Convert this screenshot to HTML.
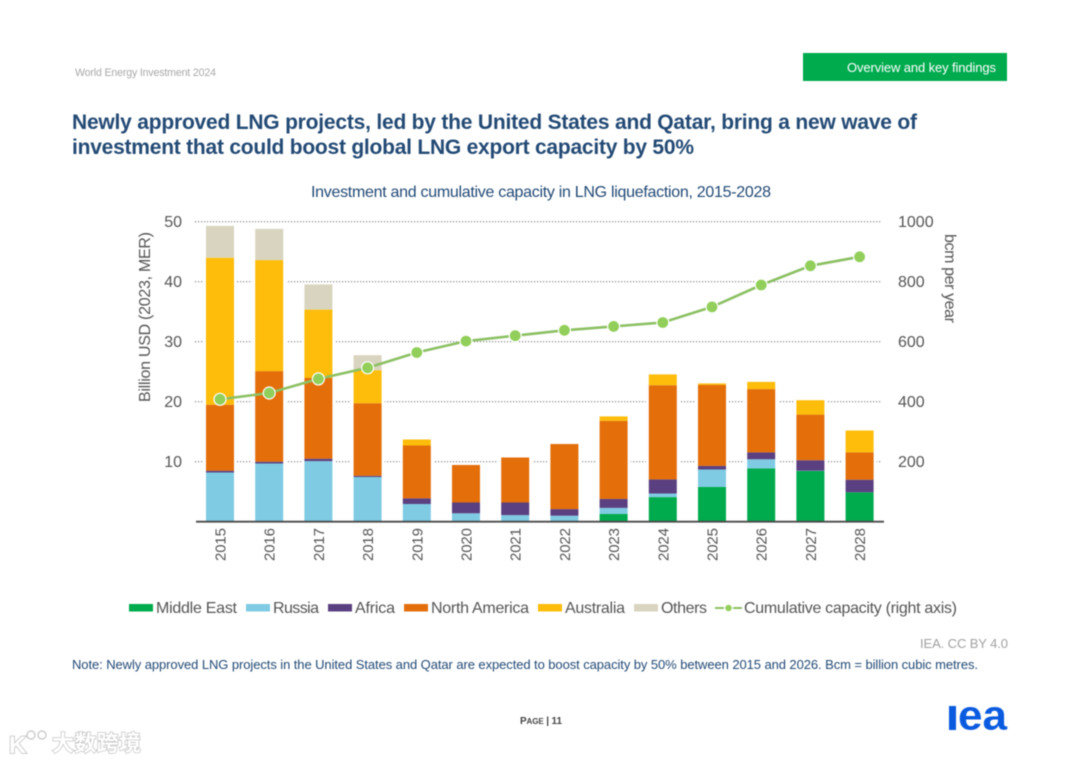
<!DOCTYPE html>
<html lang="en">
<head>
<meta charset="utf-8">
<title>LNG liquefaction investment</title>
<style>
html,body{margin:0;padding:0;background:#fff;width:1080px;height:763px;overflow:hidden}
svg{display:block;filter:blur(0.4px);font-family:"Liberation Sans","Noto Sans CJK SC",sans-serif}
</style>
</head>
<body>
<svg id="page" width="1080" height="763" viewBox="0 0 1080 763" xmlns="http://www.w3.org/2000/svg">
  <text x="75" y="76" font-size="10.6" fill="#a8a8a8" textLength="141" lengthAdjust="spacing">World Energy Investment 2024</text>
  <rect x="803" y="53" width="204" height="28" fill="#00ab4e"/>
  <text x="847" y="72" font-size="13" fill="#fff" textLength="149" lengthAdjust="spacing">Overview and key findings</text>

  <text x="72" y="129" font-size="21" font-weight="700" fill="#234a75" textLength="845" lengthAdjust="spacing">Newly approved LNG projects, led by the United States and Qatar, bring a new wave of</text>
  <text x="72" y="154" font-size="21" font-weight="700" fill="#234a75" textLength="622" lengthAdjust="spacing">investment that could boost global LNG export capacity by 50%</text>

  <text x="311" y="197" font-size="16" fill="#234a75" textLength="460" lengthAdjust="spacing">Investment and cumulative capacity in LNG liquefaction, 2015-2028</text>

  <g id="chart"></g>

  <text transform="translate(150,402) rotate(-90)" font-size="16" fill="#555" textLength="170" lengthAdjust="spacing">Billion USD (2023, MER)</text>
  <text transform="translate(945,234) rotate(90)" font-size="16" fill="#555" textLength="89" lengthAdjust="spacing">bcm per year</text>

  <g font-size="16" fill="#555">
    <rect x="129" y="604" width="24" height="7.5" fill="#00ab4e"/>
    <text x="156" y="613" textLength="81" lengthAdjust="spacing">Middle East</text>
    <rect x="246" y="604" width="24" height="7.5" fill="#7fcbe3"/>
    <text x="273" y="613" textLength="46" lengthAdjust="spacing">Russia</text>
    <rect x="328" y="604" width="24" height="7.5" fill="#5a4080"/>
    <text x="355" y="613" textLength="40" lengthAdjust="spacing">Africa</text>
    <rect x="404" y="604" width="24" height="7.5" fill="#e36e0a"/>
    <text x="431" y="613" textLength="98" lengthAdjust="spacing">North America</text>
    <rect x="538" y="604" width="24" height="7.5" fill="#fdbd0a"/>
    <text x="565" y="613" textLength="60" lengthAdjust="spacing">Australia</text>
    <rect x="634" y="604" width="24" height="7.5" fill="#d9d4bf"/>
    <text x="661" y="613" textLength="46" lengthAdjust="spacing">Others</text>
    <line x1="715" y1="608" x2="742" y2="608" stroke="#8cc063" stroke-width="2"/>
    <circle cx="728.5" cy="608" r="4" fill="#92cf5a" stroke="#fff" stroke-width="1.5"/>
    <text x="744" y="613" textLength="213" lengthAdjust="spacing">Cumulative capacity (right axis)</text>
  </g>

  <text x="920" y="648" font-size="13" fill="#a0a0a0" textLength="88" lengthAdjust="spacing">IEA. CC BY 4.0</text>
  <text x="72" y="669" font-size="13" fill="#234a75" textLength="906" lengthAdjust="spacing">Note: Newly approved LNG projects in the United States and Qatar are expected to boost capacity by 50% between 2015 and 2026. Bcm = billion cubic metres.</text>

  <text x="520" y="724" font-size="10" font-weight="700" fill="#444" textLength="42" lengthAdjust="spacing">P<tspan font-size="8">AGE</tspan> | 11</text>

  <g fill="#0b5be0">
    <rect x="949" y="706" width="7" height="24"/>
    <text transform="translate(958,729.6) scale(1.05,1)" font-size="42" font-weight="700">ea</text>
  </g>

  <g>
    <text x="9" y="753" font-size="24" font-weight="700" fill="#fff" stroke="#cacaca" stroke-width="1.8" paint-order="stroke">K</text>
    <circle cx="31" cy="735" r="4" fill="#fff" stroke="#cccccc" stroke-width="1.4"/>
    <circle cx="42" cy="735" r="4" fill="#fff" stroke="#cccccc" stroke-width="1.4"/>
    <text x="52" y="751" font-size="22" font-weight="700" fill="#fff" stroke="#c6c6c6" stroke-width="1.5" paint-order="stroke" textLength="89" lengthAdjust="spacing" style="font-family:'Noto Sans CJK SC','WenQuanYi Zen Hei',sans-serif">大数跨境</text>
  </g>
</svg>
<script>
const categories = ['2015','2016','2017','2018','2019','2020','2021','2022','2023','2024','2025','2026','2027','2028'];
const middleEast   = [0,0,0,0,0,0,0,0,1.3,4.1,5.8,8.9,8.45,4.9];
const russia       = [8.2,9.7,10.1,7.45,2.95,1.4,1.1,1.0,1.0,0.6,2.9,1.5,0.05,0];
const africa       = [0.3,0.3,0.4,0.2,0.95,1.8,2.1,1.1,1.5,2.35,0.6,1.15,1.75,2.1];
const northAmerica = [11.0,15.1,13.45,12.1,8.8,6.25,7.5,10.85,13.0,15.7,13.5,10.55,7.6,4.55];
const australia    = [24.5,18.5,11.4,5.5,1.0,0,0,0,0.75,1.8,0.25,1.2,2.4,3.65];
const others       = [5.3,5.2,4.2,2.5,0,0,0,0,0,0,0,0,0,0];
const capacity     = [408,429,476,513,564,602,620,638,651,664,716,789,853,883];
const leftTicks  = [10,20,30,40,50];
const rightTicks = [200,400,600,800,1000];

const svgNS = 'http://www.w3.org/2000/svg';
const chart = document.getElementById('chart');
const xPos = i => 220 + 49.2 * i;
const yLeft = v => 521.7 - 6 * v;
const yRight = v => 521.7 - 0.3 * v;
const barWidth = 28;

function make(tag, attrs, parent, text) {
  const el = document.createElementNS(svgNS, tag);
  for (const k in attrs) el.setAttribute(k, attrs[k]);
  if (text !== undefined) el.textContent = text;
  (parent || chart).appendChild(el);
  return el;
}

leftTicks.forEach(t => {
  const grid = make('line', {x1:195, x2:882, y1:yLeft(t), y2:yLeft(t), stroke:'#808080', 'stroke-width':1.2, 'stroke-dasharray':'1.2 1.8'});
  
  
  const label = make('text', {x:182, y:yLeft(t) + 5.5, 'text-anchor':'end', 'font-size':16, fill:'#555'}, chart, String(t));
  
  
});

rightTicks.forEach(t => {
  const label = make('text', {x:898, y:yRight(t) + 5.5, 'font-size':16, fill:'#555'}, chart, String(t));
  
  
});

const stackSeries = [
  {name:'middle-east', values:middleEast, color:'#00ab4e'},
  {name:'russia', values:russia, color:'#7fcbe3'},
  {name:'africa', values:africa, color:'#5a4080'},
  {name:'north-america', values:northAmerica, color:'#e36e0a'},
  {name:'australia', values:australia, color:'#fdbd0a'},
  {name:'others', values:others, color:'#d9d4bf'}
];

categories.forEach((cat, i) => {
  const total = stackSeries.reduce((sum, s) => sum + s.values[i], 0);
  const halo = make('rect', {x:xPos(i) - barWidth / 2 - 3, width:barWidth + 6, y:yLeft(total) - 1, height:yLeft(0) - yLeft(total) + 1, fill:'#fff'});
  
  
  let cum = 0;
  stackSeries.forEach(s => {
    const v = s.values[i];
    if (v > 0) {
      const seg = make('rect', {x:xPos(i) - barWidth / 2, width:barWidth, y:yLeft(cum + v), height:yLeft(cum) - yLeft(cum + v), fill:s.color});
      
      
    }
    cum += v;
  });
  const tick = make('text', {transform:'translate(' + (xPos(i) + 5.5) + ',561) rotate(-90)', 'font-size':15, fill:'#555', textLength:33, lengthAdjust:'spacing'}, chart, cat);
  
  
});

const baseline = make('line', {x1:196, x2:884, y1:521.7, y2:521.7, stroke:'#4a4a4a', 'stroke-width':1.8});



const linePath = make('polyline', {points:capacity.map((v, i) => xPos(i) + ',' + yRight(v)).join(' '), fill:'none', stroke:'#8cc063', 'stroke-width':2.6});



capacity.forEach((v, i) => {
  const dot = make('circle', {cx:xPos(i), cy:yRight(v), r:6, fill:'#92cf5a', stroke:'#fff', 'stroke-width':1.2});
  
  
});
</script>
</body>
</html>
